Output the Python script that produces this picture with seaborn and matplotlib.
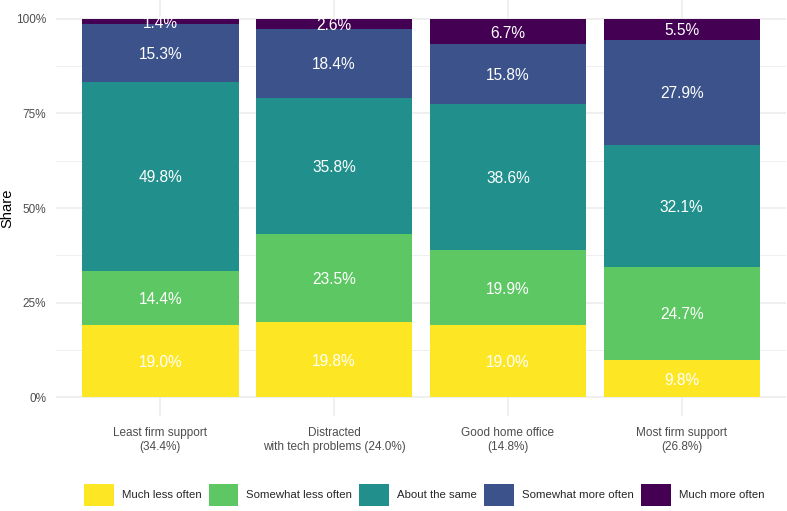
import matplotlib
matplotlib.use("Agg")
import matplotlib.pyplot as plt
from matplotlib.patches import Patch
from matplotlib.ticker import FixedLocator, FuncFormatter
import numpy as np
import seaborn as sns

# data (percent of each group)
groups = ["Least firm support\n(34.4%)",
          "Distracted\nwith tech problems (24.0%)",
          "Good home office\n(14.8%)",
          "Most firm support\n(26.8%)"]
responses = ["Much less often", "Somewhat less often", "About the same",
             "Somewhat more often", "Much more often"]
much_less = [19.0, 19.8, 19.0, 9.8]
somewhat_less = [14.4, 23.5, 19.9, 24.7]
about_same = [49.8, 35.8, 38.6, 32.1]
somewhat_more = [15.3, 18.4, 15.8, 27.9]
much_more = [1.4, 2.6, 6.7, 5.5]

colors = ["#FDE725", "#5DC863", "#21908C", "#3B528B", "#440154"]

sns.set_theme(style="white")
plt.rcParams['font.family'] = ['Liberation Sans', 'DejaVu Sans']

raw = np.array([much_less, somewhat_less, about_same,
                somewhat_more, much_more])
# position fill: normalise each bar to 100
values = raw / raw.sum(axis=0) * 100
tops = values.cumsum(axis=0)

fig = plt.figure(figsize=(7.87, 5.11), dpi=100)
ax = fig.add_axes([56 / 787, 1 - 416 / 511, 730 / 787, 416 / 511])

# overlay cumulative bars, tallest first
for i in range(len(responses) - 1, -1, -1):
    sns.barplot(x=groups, y=tops[i], order=groups, color=colors[i],
                width=0.9, saturation=1, linewidth=0, ax=ax, zorder=2)

# segment labels in the middle of each piece
for i in range(len(responses)):
    mids = tops[i] - values[i] / 2
    for j in range(len(groups)):
        ax.text(j, mids[j], f"{raw[i][j]:.1f}%", ha="center",
                va="center_baseline", color="white", fontsize=11.2,
                zorder=3)

ax.set_xlim(-0.6, 3.6)
ax.set_ylim(-5, 105)
ax.yaxis.set_major_locator(FixedLocator([0, 25, 50, 75, 100]))
ax.yaxis.set_minor_locator(FixedLocator([12.5, 37.5, 62.5, 87.5]))
ax.yaxis.set_major_formatter(FuncFormatter(lambda v, p: f"{v:.0f}%"))
ax.grid(True, which="major", color="#EBEBEB", linewidth=1.1, zorder=0)
ax.grid(True, which="minor", axis="y", color="#EBEBEB", linewidth=0.55,
        zorder=0)
ax.set_axisbelow(True)
for s in ax.spines.values():
    s.set_visible(False)
ax.tick_params(axis="both", which="both", length=0, labelsize=8.5,
               labelcolor="#4D4D4D")
ax.tick_params(axis="x", pad=8)
ax.tick_params(axis="y", pad=7)
ax.set_xlabel("")
ax.set_ylabel("Share", fontsize=10.6, color="black", labelpad=1)

handles = [Patch(facecolor=c, edgecolor="none") for c in colors]
fig.legend(handles, responses, loc="center", ncol=5,
           bbox_to_anchor=(424 / 787, 1 - 495 / 511), frameon=False,
           fontsize=8.2, handlelength=2.6, handleheight=2.6,
           handletextpad=0.7, columnspacing=0.65, borderaxespad=0)

fig.savefig("out.png", dpi=100)
